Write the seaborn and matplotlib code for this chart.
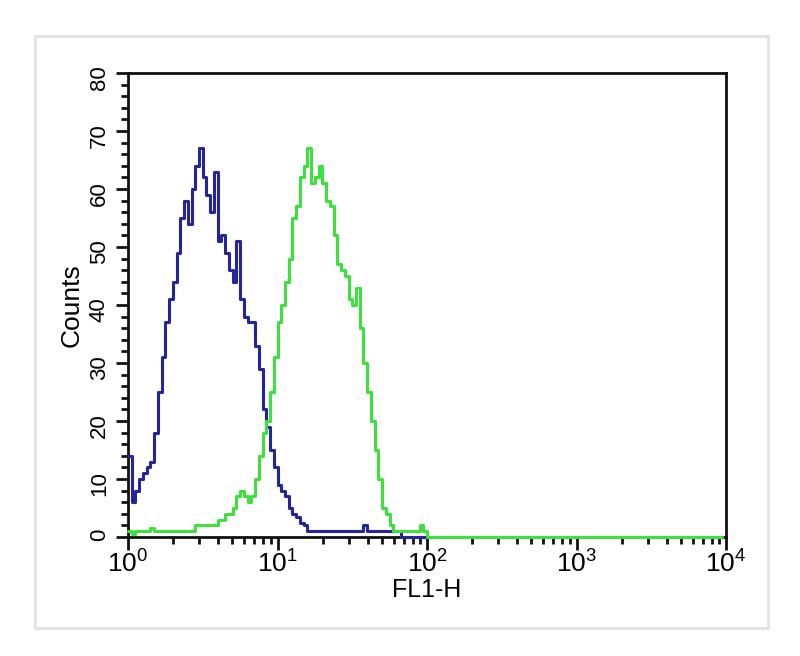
import numpy as np
import pandas as pd
import seaborn as sns
import matplotlib.pyplot as plt
from matplotlib.patches import Rectangle
from matplotlib.ticker import MultipleLocator, LogLocator, NullFormatter

# histogram counts, 40 log bins per decade starting at 10^0 (first 80 bins)
blue_counts = [14, 6, 8, 10, 11, 12, 13, 18, 25, 31,
               37, 41, 44, 49, 55, 58, 54, 60, 64, 67,
               62, 59, 56, 63, 51, 52, 49, 46, 44, 51,
               41, 38, 37, 37, 33, 29, 22, 19, 15, 12,
               9, 8, 7, 5, 4, 3.5, 2.5, 2, 1, 1,
               1, 1, 1, 1, 1, 1, 1, 1, 1, 1,
               1, 1, 1, 2, 1, 1, 1, 1, 1, 1,
               1, 1, 1, 0, 0, 0, 0, 0, 0, 0]
green_counts = [1, 0.5, 1, 1, 1, 1, 1.5, 1, 1, 1,
                1, 1, 1, 1, 1, 1, 1, 1, 2, 2,
                2, 2, 2, 2, 3, 3, 4, 4, 5, 7,
                8, 7, 6, 7, 10, 14, 18, 20, 25, 31,
                37, 40, 44, 48, 55, 57, 62, 64, 67, 61,
                62, 64, 61, 58, 57, 52, 47, 46, 45, 41,
                40, 43, 36, 30, 25, 20, 15, 10, 5, 4,
                2, 1, 1, 1, 1, 1, 1, 1, 2, 1]
empty_bins = [0] * 80   # 10^2 .. 10^4, nothing there

x_ticks = [1, 10, 100, 1000, 10000]
x_ticklabels = [r'$\mathregular{10^{0}}$', r'$\mathregular{10^{1}}$', r'$\mathregular{10^{2}}$',
                r'$\mathregular{10^{3}}$', r'$\mathregular{10^{4}}$']
y_ticks = [0, 10, 20, 30, 40, 50, 60, 70, 80]

bins_per_decade = 40
n_bins = len(blue_counts) + len(empty_bins)
left_edges = 10 ** (np.arange(n_bins) / bins_per_decade)

df = pd.DataFrame({
    'FL1-H': np.concatenate([left_edges, left_edges]),
    'Counts': blue_counts + empty_bins + green_counts + empty_bins,
    'sample': ['control'] * n_bins + ['stained'] * n_bins,
})

sns.set_style('ticks')
plt.rcParams['font.family'] = ['Liberation Sans', 'DejaVu Sans']
plt.rcParams['mathtext.default'] = 'regular'
plt.rcParams['text.color'] = 'black'
plt.rcParams['xtick.color'] = 'black'
plt.rcParams['ytick.color'] = 'black'
plt.rcParams['axes.labelcolor'] = 'black'

fig = plt.figure(figsize=(8, 6.56), dpi=100)
# light grey frame around the whole panel
fig.patches.append(Rectangle((35 / 800, 1 - 628 / 656), 733 / 800, 592 / 656,
                             transform=fig.transFigure, fill=False,
                             edgecolor='#e2e2e2', linewidth=2))
ax = fig.add_axes([128 / 800, 1 - 537 / 656, 598 / 800, 464 / 656])

sns.lineplot(data=df, x='FL1-H', y='Counts', hue='sample',
             palette={'control': '#24249c', 'stained': '#3ee03e'},
             estimator=None, drawstyle='steps-post', linewidth=2.2,
             legend=False, ax=ax, clip_on=False, zorder=3)

ax.set_xscale('log')
ax.set_xlim(1, 10000)
ax.set_ylim(0, 80)

ax.set_xticks(x_ticks)
ax.set_xticklabels(x_ticklabels)
ax.xaxis.set_minor_locator(LogLocator(base=10, subs=np.arange(2, 10)))
ax.xaxis.set_minor_formatter(NullFormatter())

ax.set_yticks(y_ticks)
ax.set_yticklabels([str(v) for v in y_ticks])
ax.yaxis.set_minor_locator(MultipleLocator(2))

ax.tick_params(which='major', direction='out', length=9, width=2, color='#111111')
ax.tick_params(which='minor', direction='out', length=5, width=2, color='#111111')
ax.tick_params(axis='x', which='major', labelsize=19, pad=1)
ax.tick_params(axis='y', which='major', labelsize=16, labelrotation=90, pad=4)

for side in ['left', 'right', 'top', 'bottom']:
    ax.spines[side].set_visible(True)
    ax.spines[side].set_color('#111111')
    ax.spines[side].set_linewidth(2)

ax.set_xlabel('FL1-H', fontsize=18, labelpad=0)
ax.set_ylabel('Counts', fontsize=19, labelpad=4)

fig.savefig('out.png', dpi=100)
